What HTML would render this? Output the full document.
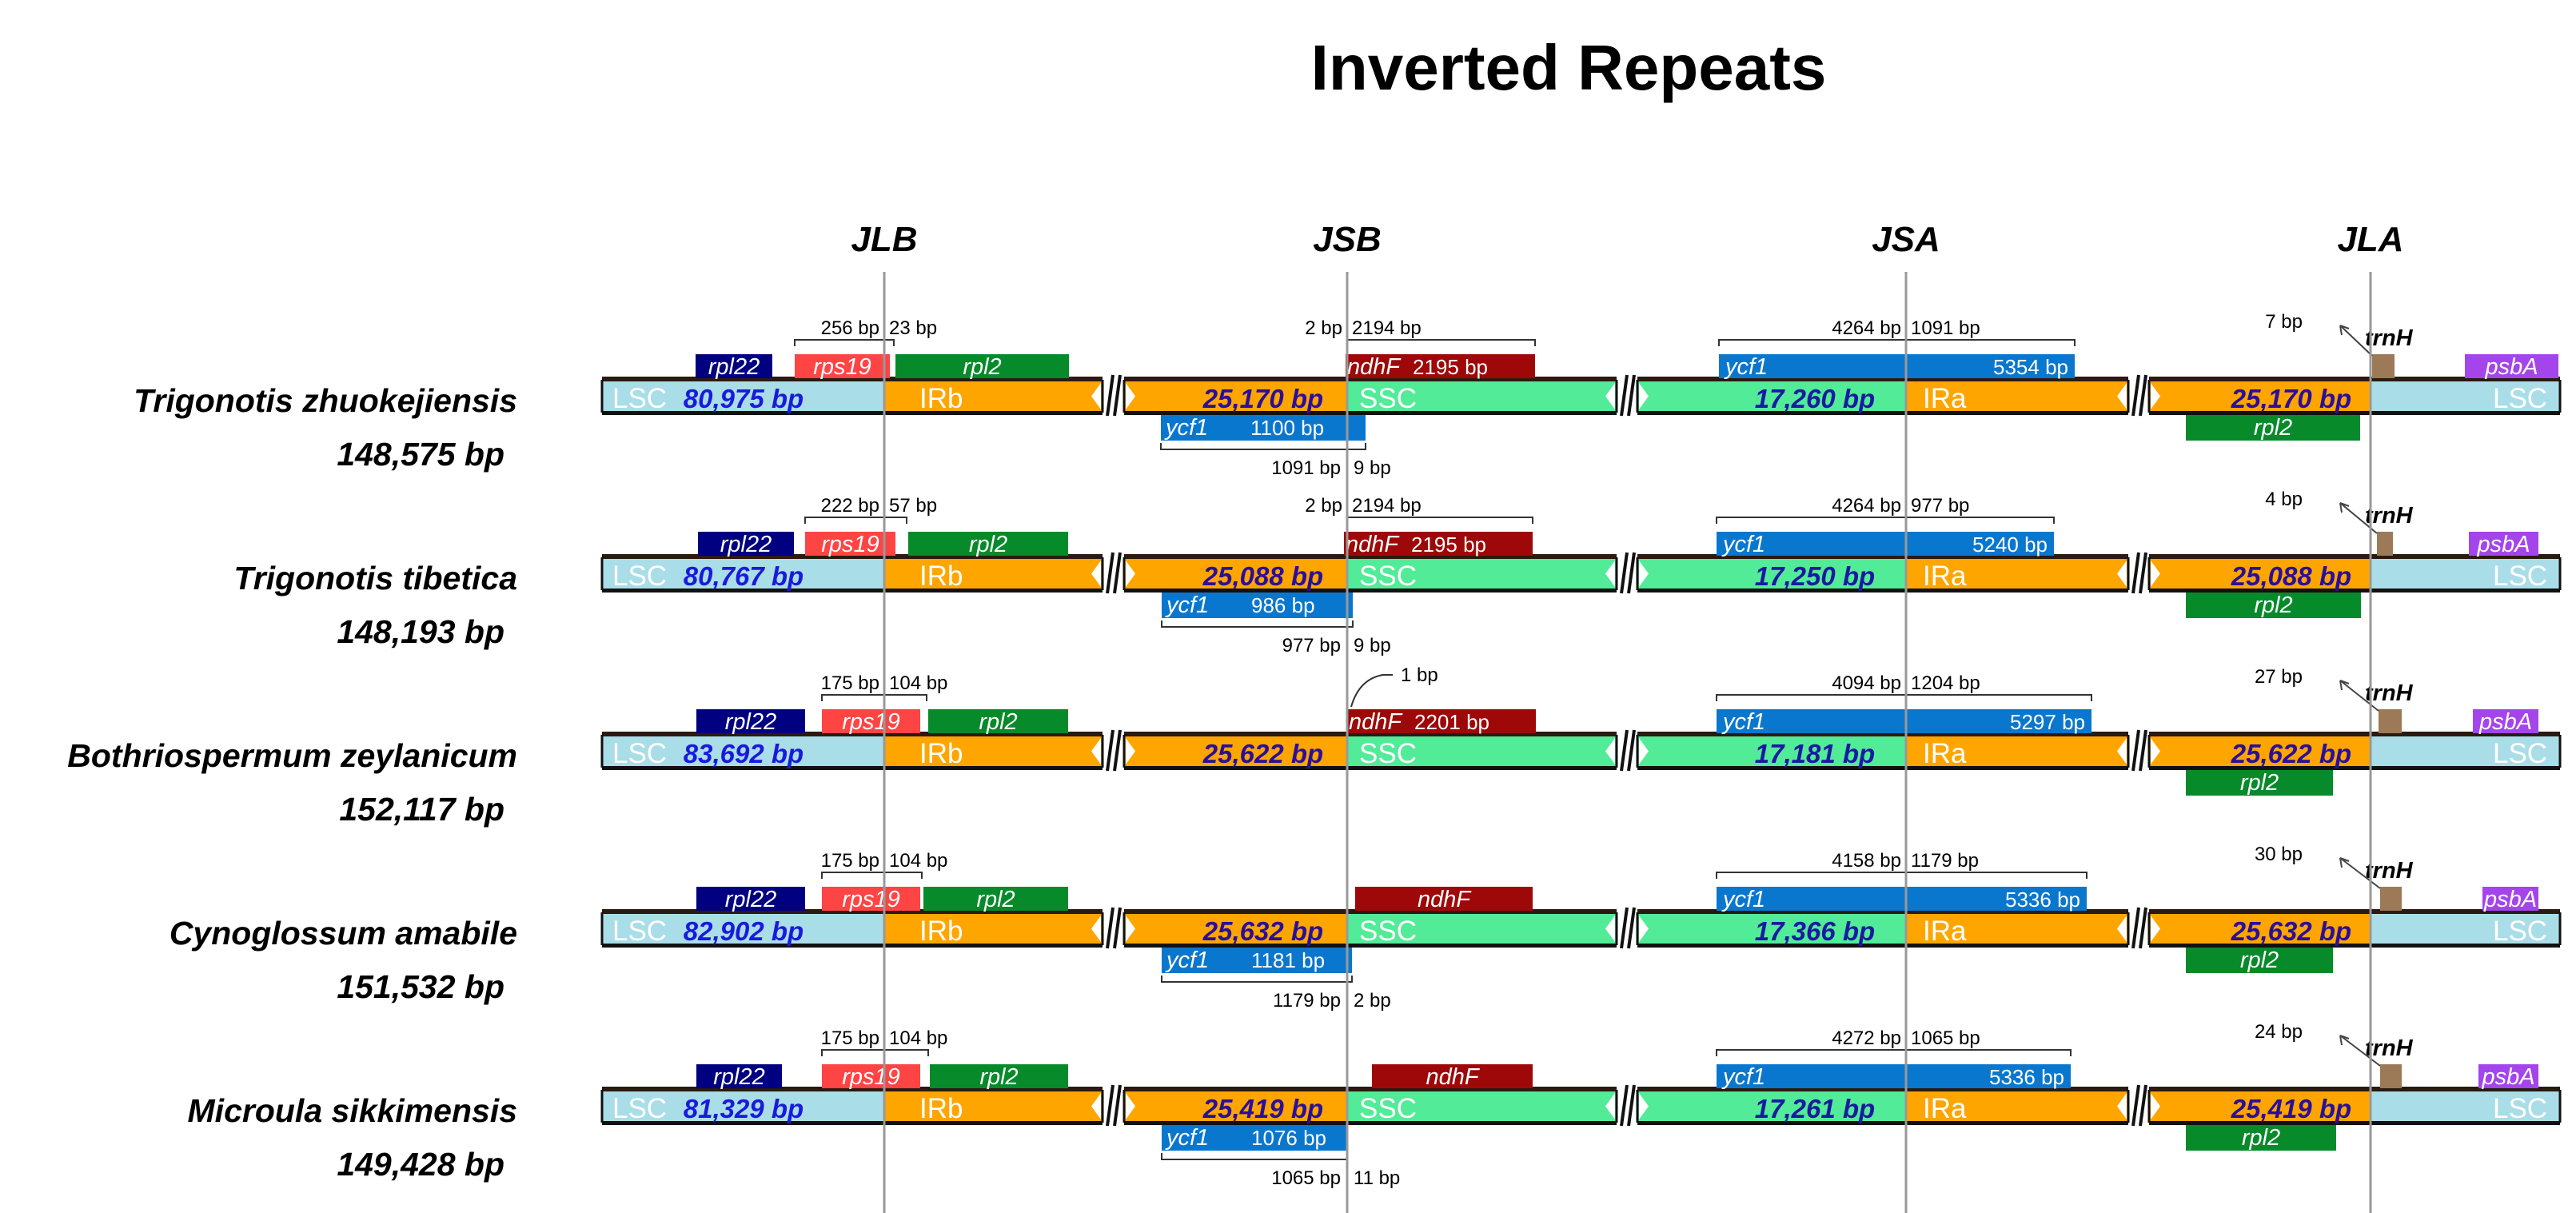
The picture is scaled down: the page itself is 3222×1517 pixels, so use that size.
<!DOCTYPE html>
<html><head><meta charset="utf-8"><style>
html,body{margin:0;padding:0;background:#fff;}
svg{display:block;font-family:"Liberation Sans",Arial,sans-serif;}
</style></head><body>
<svg id="chart" width="3222" height="1517" viewBox="0 0 3222 1517" xmlns="http://www.w3.org/2000/svg">
<text x="1962" y="112" text-anchor="middle" font-size="80" font-weight="bold">Inverted Repeats</text>
<g id="junctions"></g>
<g id="rows"></g>
</svg>
<script>
const NS='http://www.w3.org/2000/svg';
const species=['Trigonotis zhuokejiensis','Trigonotis tibetica','Bothriospermum zeylanicum','Cynoglossum amabile','Microula sikkimensis'];
const totals=['148,575 bp','148,193 bp','152,117 bp','151,532 bp','149,428 bp'];
const lscLen=['80,975 bp','80,767 bp','83,692 bp','82,902 bp','81,329 bp'];
const irLen=['25,170 bp','25,088 bp','25,622 bp','25,632 bp','25,419 bp'];
const sscLen=['17,260 bp','17,250 bp','17,181 bp','17,366 bp','17,261 bp'];
const junctionNames=['JLB','JSB','JSA','JLA'];
const junctionX=[1106,1685,2384,2965];
const jlbAnn=[['256 bp','23 bp'],['222 bp','57 bp'],['175 bp','104 bp'],['175 bp','104 bp'],['175 bp','104 bp']];
const jsbAnn=[['2 bp','2194 bp'],['2 bp','2194 bp'],null,null,null];
const jsaAnn=[['4264 bp','1091 bp'],['4264 bp','977 bp'],['4094 bp','1204 bp'],['4158 bp','1179 bp'],['4272 bp','1065 bp']];
const jlaAnn=['7 bp','4 bp','27 bp','30 bp','24 bp'];
const belowAnn=[['1091 bp','9 bp'],['977 bp','9 bp'],null,['1179 bp','2 bp'],['1065 bp','11 bp']];
const ndhfSize=['2195 bp','2195 bp','2201 bp','',''];
const ycf1Size=['5354 bp','5240 bp','5297 bp','5336 bp','5336 bp'];
const ycf1bSize=['1100 bp','986 bp',null,'1181 bp','1076 bp'];
const rpl22=[[870,966],[873,993],[871,1007],[871,1007],[871,978]];
const rps19=[[994,1113],[1007,1120],[1028,1151],[1028,1151],[1028,1151]];
const rpl2=[[1120,1337],[1136,1336],[1161,1336],[1155,1336],[1163,1336]];
const ndhF=[[1683,1920],[1681,1917],[1685,1921],[1695,1917],[1716,1917]];
const ycf1=[[2150,2595],[2147,2569],[2147,2616],[2147,2610],[2147,2590]];
const trnH=[[2967,2995],[2973,2993],[2975,3004],[2977,3004],[2977,3004]];
const psbA=[[3083,3200],[3088,3175],[3093,3175],[3105,3175],[3100,3175]];
const ycf1b=[[1452,1708],[1453,1692],null,[1453,1691],[1453,1685]];
const rpl2b=[[2734,2952],[2734,2953],[2734,2918],[2734,2918],[2734,2922]];

const segs=[[753,1379],[1406,2022],[2048,2662],[2688,3202]];
const ROW=222, BT=475, BB=516;
const rowsG=document.getElementById('rows');
function el(tag,attrs,parent,text){const e=document.createElementNS(NS,tag);for(const k in attrs)e.setAttribute(k,attrs[k]);if(text!=null)e.textContent=text;(parent||rowsG).appendChild(e);return e;}

const jg=document.getElementById('junctions');
junctionNames.forEach((n,i)=>{
  const t=el('text',{x:junctionX[i],y:314,'text-anchor':'middle','font-size':44,'font-weight':'bold','font-style':'italic'},jg,n);
  
  
});

function gene(g,span,y0,y1,color,name){
  const r=el('rect',{x:span[0],y:y0,width:span[1]-span[0],height:y1-y0,fill:color},g);
  
  
  return r;
}
function txt(g,x,y,s,opts,name){
  const a={x:x,y:y,'font-size':opts.size||24};
  if(opts.anchor)a['text-anchor']=opts.anchor;
  if(opts.bold)a['font-weight']='bold';
  if(opts.italic)a['font-style']='italic';
  a.fill=opts.fill||'#000';
  const t=el('text',a,g,s);
  
  
  return t;
}
function bracket(g,x0,x1,y,up){
  const d=up?-8:8;
  el('path',{d:`M${x0} ${y+d}V${y}H${x1}V${y+d}`,stroke:'#333',fill:'none','stroke-width':2},g);
}

species.forEach((sp,i)=>{
  const o=i*ROW;
  const g=el('g',{transform:`translate(0,${o})`});
  
  
  txt(g,647,515,sp,{size:41,bold:true,italic:true,anchor:'end'},'species-name');
  txt(g,631,582,totals[i],{size:41,bold:true,italic:true,anchor:'end'},'genome-size');
  const fills=[['#a9dde8','#ffa500'],['#ffa500','#52eb98'],['#52eb98','#ffa500'],['#ffa500','#a9dde8']];
  segs.forEach((s,k)=>{
    const jx=junctionX[k];
    const r1=el('rect',{x:s[0],y:BT,width:jx-s[0],height:BB-BT,fill:fills[k][0]},g);
    
    
    const r2=el('rect',{x:jx,y:BT,width:s[1]-jx,height:BB-BT,fill:fills[k][1]},g);
    
    
    el('rect',{x:s[0],y:BT-4,width:s[1]-s[0],height:6,fill:'#2a1a10'},g);
    el('rect',{x:s[0],y:BB-2,width:s[1]-s[0],height:5,fill:'#111'},g);
    el('line',{x1:s[0],y1:BT,x2:s[0],y2:BB,stroke:'#111','stroke-width':3},g);
    el('line',{x1:s[1],y1:BT,x2:s[1],y2:BB,stroke:'#111','stroke-width':3},g);
    if(k>0) el('path',{d:`M${s[0]+2} ${BT+4}L${s[0]+14} ${(BT+BB)/2}L${s[0]+2} ${BB-4}Z`,fill:'#fff'},g);
    if(k<3) el('path',{d:`M${s[1]-2} ${BT+4}L${s[1]-14} ${(BT+BB)/2}L${s[1]-2} ${BB-4}Z`,fill:'#fff'},g);
    if(k<3){
      el('line',{x1:s[1]+6,y1:BB+4,x2:s[1]+13,y2:BT-6,stroke:'#111','stroke-width':4},g);
      el('line',{x1:s[1]+15,y1:BB+4,x2:s[1]+22,y2:BT-6,stroke:'#111','stroke-width':4},g);
    }
  });
  const wy=510;
  txt(g,766,wy,'LSC',{size:35,fill:'#fff'},'region-label-lsc');
  txt(g,1150,wy,'IRb',{size:35,fill:'#fff'},'region-label-irb');
  txt(g,1700,wy,'SSC',{size:35,fill:'#fff'},'region-label-ssc');
  txt(g,2405,wy,'IRa',{size:35,fill:'#fff'},'region-label-ira');
  txt(g,3118,wy,'LSC',{size:35,fill:'#fff'},'region-label-lsc2');
  txt(g,930,wy,lscLen[i],{size:33,bold:true,italic:true,anchor:'middle',fill:'#1a1adb'},'lsc-length');
  txt(g,1580,wy,irLen[i],{size:33,bold:true,italic:true,anchor:'middle',fill:'#2a0f9a'},'irb-length');
  txt(g,2270,wy,sscLen[i],{size:33,bold:true,italic:true,anchor:'middle',fill:'#1a1aa0'},'ssc-length');
  txt(g,2866,wy,irLen[i],{size:33,bold:true,italic:true,anchor:'middle',fill:'#2a0f9a'},'ira-length');
  const GT=443;
  gene(g,rpl22[i],GT,BT-2,'#000080','gene-rpl22');
  txt(g,(rpl22[i][0]+rpl22[i][1])/2,468,'rpl22',{size:29,italic:true,anchor:'middle',fill:'#fff'},'gene-label-rpl22');
  gene(g,rps19[i],GT,BT-2,'#ff4444','gene-rps19');
  txt(g,(rps19[i][0]+rps19[i][1])/2,468,'rps19',{size:29,italic:true,anchor:'middle',fill:'#fff'},'gene-label-rps19');
  gene(g,rpl2[i],GT,BT-2,'#078a2a','gene-rpl2');
  txt(g,(rpl2[i][0]+rpl2[i][1])/2,468,'rpl2',{size:29,italic:true,anchor:'middle',fill:'#fff'},'gene-label-rpl2');
  gene(g,ndhF[i],GT,BT-2,'#9e0808','gene-ndhf');
  if(ndhfSize[i]){
    txt(g,ndhF[i][0]+2,468,'ndhF',{size:29,italic:true,fill:'#fff'},'gene-label-ndhf');
    txt(g,ndhF[i][0]+84,468,ndhfSize[i],{size:26,fill:'#fff'},'ndhf-size');
  } else txt(g,(ndhF[i][0]+ndhF[i][1])/2,468,'ndhF',{size:29,italic:true,anchor:'middle',fill:'#fff'},'gene-label-ndhf');
  gene(g,ycf1[i],GT,BT-2,'#0a77cf','gene-ycf1');
  txt(g,ycf1[i][0]+8,468,'ycf1',{size:29,italic:true,fill:'#fff'},'gene-label-ycf1');
  txt(g,ycf1[i][1]-8,468,ycf1Size[i],{size:26,anchor:'end',fill:'#fff'},'ycf1-size');
  gene(g,trnH[i],GT,BT-2,'#9c7a58','gene-trnh');
  txt(g,2958,432,'trnH',{size:29,italic:true,bold:true},'gene-label-trnh');
  el('path',{d:`M${trnH[i][0]} ${GT+2}L2927 407M2927 407l2 12M2927 407l11 4`,stroke:'#444',fill:'none','stroke-width':2},g);
  gene(g,psbA[i],GT,BT-2,'#a445ec','gene-psba');
  txt(g,(psbA[i][0]+psbA[i][1])/2,468,'psbA',{size:29,italic:true,anchor:'middle',fill:'#fff'},'gene-label-psba');
  if(ycf1b[i]){
    gene(g,ycf1b[i],BB+3,551,'#0a77cf','gene-ycf1-fragment');
    txt(g,ycf1b[i][0]+6,544,'ycf1',{size:29,italic:true,fill:'#fff'},'gene-label-ycf1-fragment');
    txt(g,ycf1b[i][0]+112,544,ycf1bSize[i],{size:26,fill:'#fff'},'ycf1-fragment-size');
  }
  gene(g,rpl2b[i],BB+3,551,'#078a2a','gene-rpl2-ira');
  txt(g,(rpl2b[i][0]+rpl2b[i][1])/2,544,'rpl2',{size:29,italic:true,anchor:'middle',fill:'#fff'},'gene-label-rpl2-ira');
  const AY=425, TY=418;
  bracket(g,rps19[i][0],rpl2[i][0]-2,AY,false);
  txt(g,junctionX[0]-6,TY,jlbAnn[i][0],{size:24,anchor:'end'},'jlb-distance-left');
  txt(g,junctionX[0]+6,TY,jlbAnn[i][1],{size:24},'jlb-distance-right');
  if(jsbAnn[i]){
    bracket(g,junctionX[1],ndhF[i][1],AY,false);
    txt(g,junctionX[1]-6,TY,jsbAnn[i][0],{size:24,anchor:'end'},'jsb-distance-left');
    txt(g,junctionX[1]+6,TY,jsbAnn[i][1],{size:24},'jsb-distance-right');
  }
  if(i===2){
    el('path',{d:'M1690 440Q1700 405 1730 400',stroke:'#333',fill:'none','stroke-width':2},g);
    el('path',{d:'M1728 400h14',stroke:'#333','stroke-width':2},g);
    txt(g,1752,408,'1 bp',{size:24},'jsb-distance');
  }
  bracket(g,ycf1[i][0],ycf1[i][1],AY,false);
  txt(g,junctionX[2]-6,TY,jsaAnn[i][0],{size:24,anchor:'end'},'jsa-distance-left');
  txt(g,junctionX[2]+6,TY,jsaAnn[i][1],{size:24},'jsa-distance-right');
  txt(g,2880,410,jlaAnn[i],{size:24,anchor:'end'},'jla-distance');
  if(belowAnn[i]){
    bracket(g,ycf1b[i][0],ycf1b[i][1],562,true);
    txt(g,junctionX[1]-8,593,belowAnn[i][0],{size:24,anchor:'end'},'below-distance-left');
    txt(g,junctionX[1]+8,593,belowAnn[i][1],{size:24},'below-distance-right');
  }
});
junctionX.forEach((x,i)=>{
  const l=el('line',{x1:x,y1:340,x2:x,y2:1517,stroke:'#999','stroke-width':3},jg.parentNode);
  
  
});
</script>
</body></html>
